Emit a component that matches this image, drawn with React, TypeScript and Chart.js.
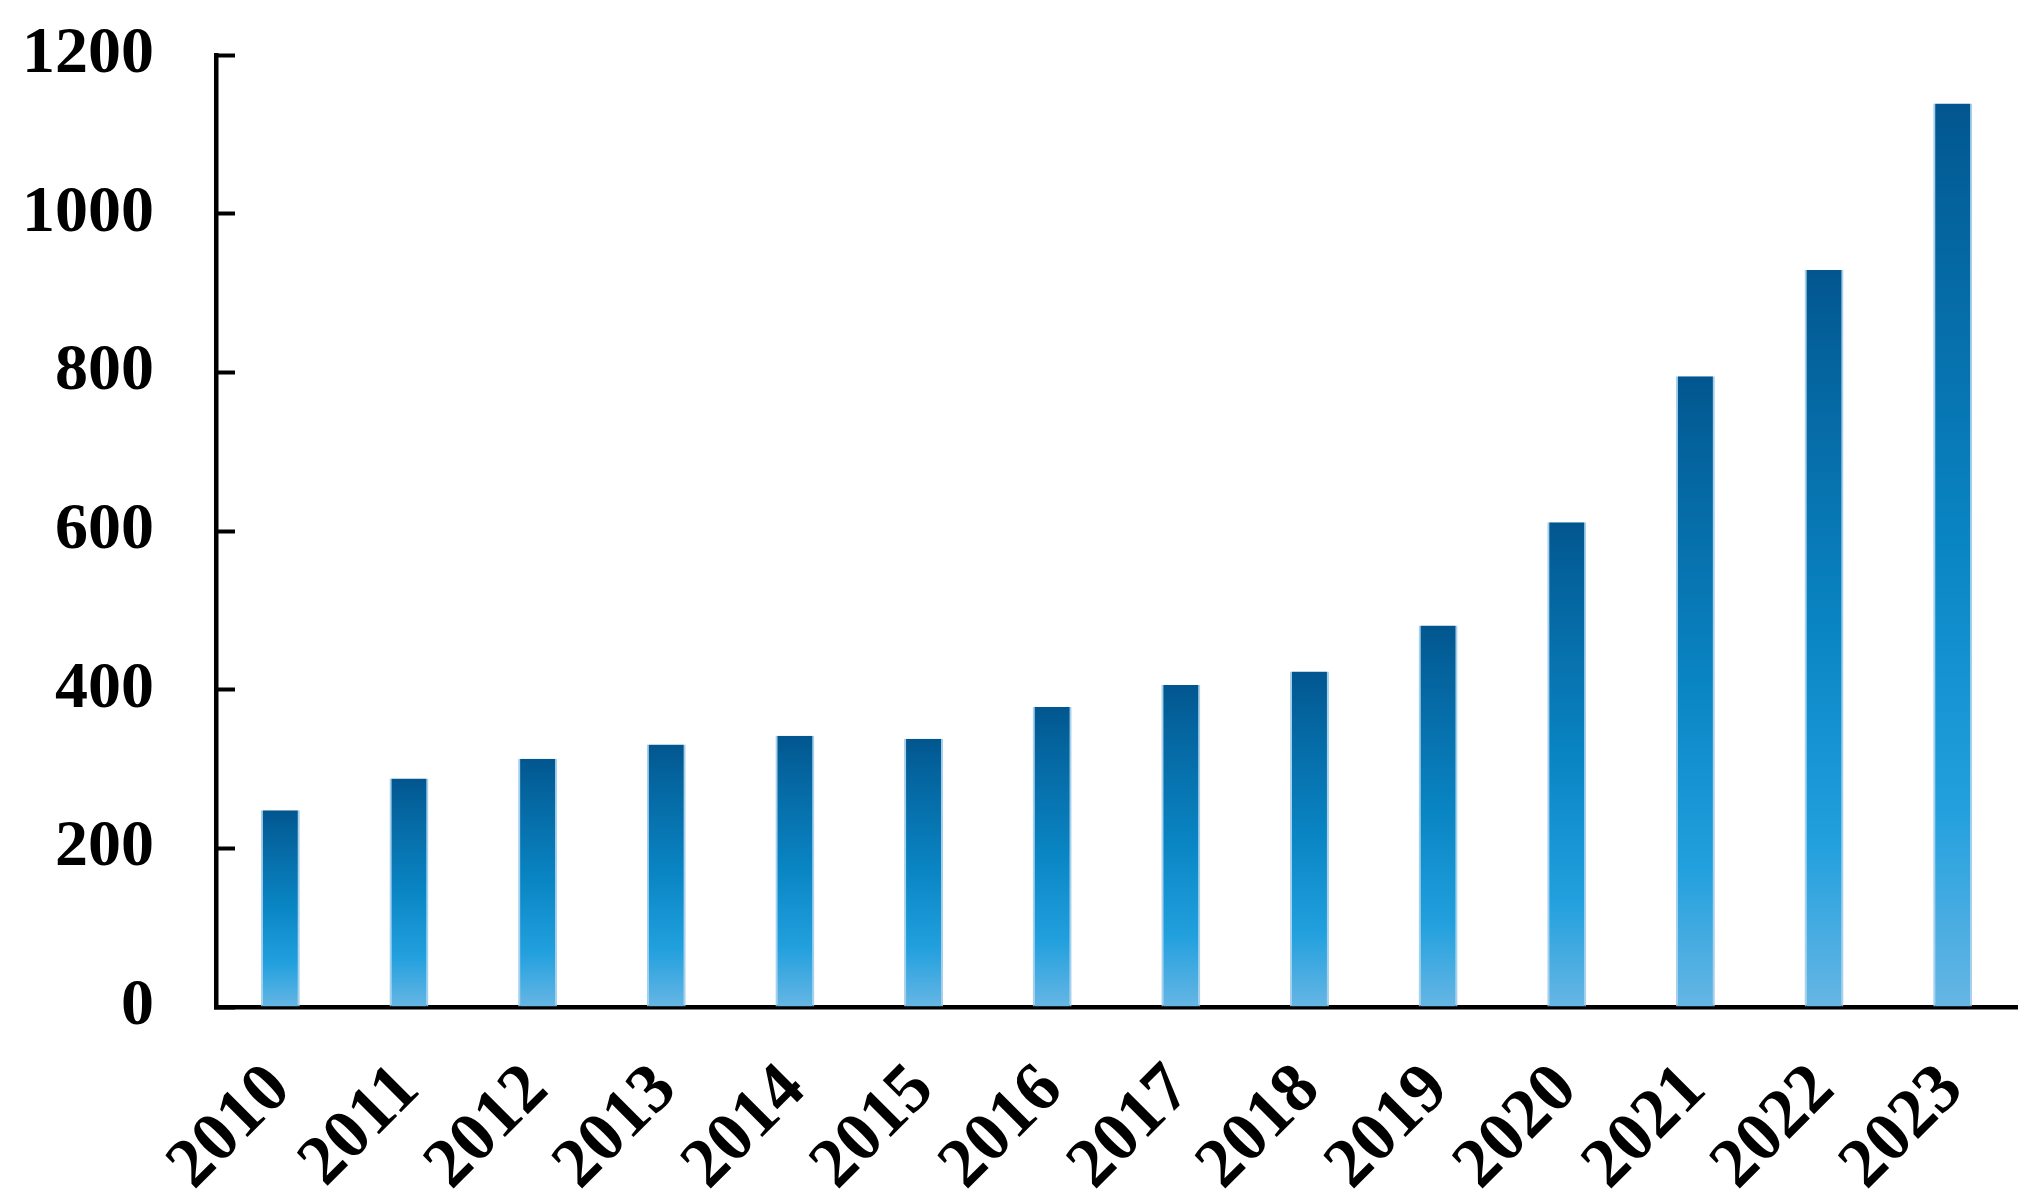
import { useEffect, useRef } from "react";
import { Chart, registerables } from "chart.js";

Chart.register(...registerables);

const years = ["2010", "2011", "2012", "2013", "2014", "2015", "2016", "2017", "2018", "2019", "2020", "2021", "2022", "2023"];
const values = [248, 288, 313, 331, 342, 338, 378, 406, 423, 481, 611, 795, 929, 1139];
const yTickValues = [0, 200, 400, 600, 800, 1000, 1200];
const gradientStops: [number, string][] = [
  [0, "#02568f"],
  [0.12, "#04639d"],
  [0.5, "#0a86c5"],
  [0.78, "#22a0de"],
  [1, "#66b6e4"],
];

export default function App() {
  const ref = useRef<HTMLCanvasElement>(null);

  useEffect(() => {
    document.body.style.margin = "0";
    document.body.style.overflow = "hidden";
    const canvas = ref.current!;
    const font = { family: "'Liberation Serif', 'Times New Roman', serif", weight: "bold" as const };

    const chart = new Chart(canvas, {
      type: "bar",
      data: {
        labels: years,
        datasets: [
          {
            data: values,
            backgroundColor: (ctx: any) => {
              const ch = ctx.chart;
              if (!ch.chartArea || !ch.scales.y) return "#0a87c6";
              const ys = ch.scales.y;
              const v = ctx.raw as number;
              const top = ys.getPixelForValue(v);
              const bottom = ys.getPixelForValue(0);
              if (!isFinite(top) || !isFinite(bottom) || top === bottom) return "#0a87c6";
              const g = ch.ctx.createLinearGradient(0, top, 0, bottom);
              gradientStops.forEach(([o, c]) => g.addColorStop(o, c));
              return g;
            },
            borderColor: "rgba(150, 200, 232, 0.85)",
            borderWidth: { left: 2, right: 2, top: 0, bottom: 0 },
            borderSkipped: "bottom",
            barPercentage: 0.303,
            categoryPercentage: 1,
          },
        ],
      },
      options: {
        responsive: false,
        maintainAspectRatio: false,
        animation: false,
        layout: { padding: { top: 55, right: 21, left: 0, bottom: 0 } },
        plugins: {
          legend: { display: false },
          tooltip: { enabled: false },
        },
        scales: {
          x: {
            grid: { display: false },
            border: { display: true, color: "#000", width: 4.5 },
            ticks: {
              color: "#000",
              font: { ...font, size: 70 },
              minRotation: 45,
              maxRotation: 45,
              padding: 34,
              autoSkip: false,
            },
            afterFit: (s: any) => {
              s.height = 196;
              s.paddingLeft = 0;
              s.paddingRight = 0;
            },
          },
          y: {
            min: 0,
            max: 1200,
            afterBuildTicks: (s: any) => {
              s.ticks = yTickValues.map((v) => ({ value: v }));
            },
            grid: {
              display: true,
              drawOnChartArea: false,
              drawTicks: true,
              tickLength: -19,
              tickWidth: 4,
              tickColor: "#000",
            },
            border: { display: true, color: "#000", width: 4.5 },
            ticks: {
              color: "#000",
              font: { ...font, size: 66 },
              padding: 81,
              callback: (v: any) => String(v),
            },
            afterFit: (s: any) => {
              s.width = 216;
              s.paddingTop = 0;
              s.paddingBottom = 0;
            },
          },
        },
      },
    });
    return () => chart.destroy();
  }, []);

  return <canvas ref={ref} width={2038} height={1203} style={{ display: "block" }} />;
}
